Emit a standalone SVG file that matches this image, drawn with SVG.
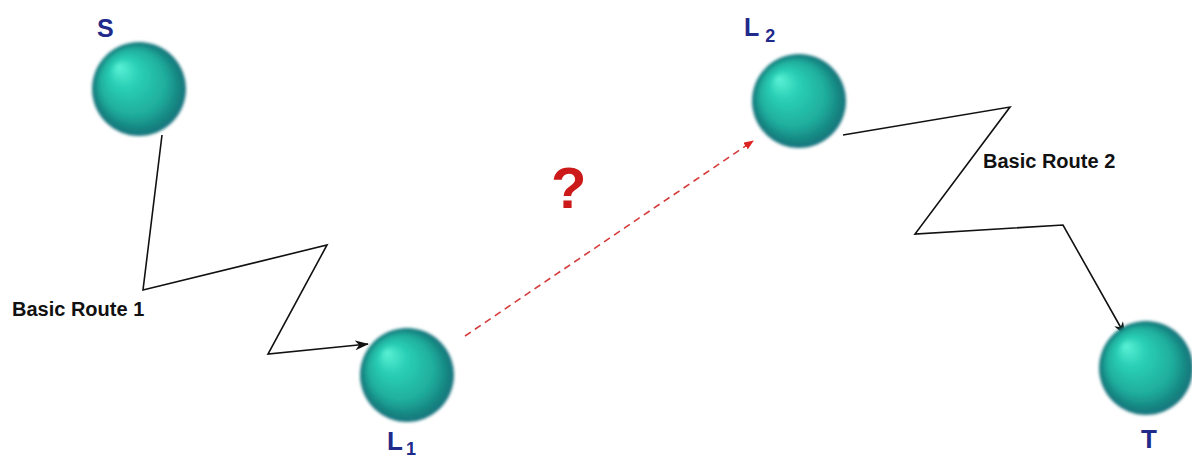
<svg xmlns="http://www.w3.org/2000/svg" width="1192" height="457" viewBox="0 0 1192 457">
  <defs>
    <radialGradient id="ball" cx="0.5" cy="0.5" r="0.5" fx="0.28" fy="0.26">
      <stop offset="0" stop-color="#5cf2d6"/>
      <stop offset="0.3" stop-color="#2ad0b6"/>
      <stop offset="0.7" stop-color="#1fad9c"/>
      <stop offset="0.92" stop-color="#15817f"/>
      <stop offset="1" stop-color="#1c7480"/>
    </radialGradient>
    <filter id="soft" x="-20%" y="-20%" width="140%" height="140%">
      <feGaussianBlur stdDeviation="1.4"/>
    </filter>
    <marker id="ah" viewBox="0 0 14 10" refX="13" refY="5" markerWidth="14" markerHeight="10" markerUnits="userSpaceOnUse" orient="auto">
      <path d="M0,0 L14,5 L0,10 L4,5 Z" fill="#111"/>
    </marker>
    <marker id="ahr" viewBox="0 0 10 8" refX="9" refY="4" markerWidth="10" markerHeight="8" markerUnits="userSpaceOnUse" orient="auto">
      <path d="M0,0 L10,4 L0,8 Z" fill="#d22"/>
    </marker>
  </defs>
  <style>
    .ball { fill: url(#ball); filter: url(#soft); }
    .lbl { font-family: "Liberation Sans", Arial, sans-serif; font-weight: bold; fill: #1f2a8a; }
    .route { font-family: "Liberation Sans", Arial, sans-serif; font-weight: bold; font-size: 20px; fill: #111; }
    .path { fill: none; stroke: #111; stroke-width: 1.6; stroke-linejoin: miter; }
  </style>
  <rect width="1192" height="457" fill="#fff"/>

  <g id="connectors">
    <polyline class="path" points="162,135 143,290 327,245 268,354 368,344" marker-end="url(#ah)"/>
    <polyline class="path" points="843,135 1010,107 915,234 1063,225 1125,335" marker-end="url(#ah)"/>
    <line x1="465" y1="336" x2="753" y2="141" stroke="#d63a3a" stroke-width="1.6" stroke-dasharray="7,5" marker-end="url(#ahr)"/>
  </g>

  <g id="node-S">
    <circle class="ball" cx="139" cy="89" r="47"/>
    <text class="lbl" x="97" y="37" font-size="25">S</text>
  </g>
  <g id="node-L1">
    <circle class="ball" cx="407" cy="375" r="47"/>
    <text class="lbl" x="387" y="450" font-size="26">L<tspan font-size="18" dx="3" dy="5">1</tspan></text>
  </g>
  <g id="node-L2">
    <circle class="ball" cx="799" cy="101" r="47"/>
    <text class="lbl" x="744" y="36" font-size="25">L<tspan font-size="18" dx="6" dy="6">2</tspan></text>
  </g>
  <g id="node-T">
    <circle class="ball" cx="1146" cy="368" r="47"/>
    <text class="lbl" x="1141" y="448" font-size="26">T</text>
  </g>

  <g id="labels">
    <text class="route" x="12" y="316">Basic Route 1</text>
    <text class="route" x="983" y="168">Basic Route 2</text>
    <text x="551" y="208" font-family="Liberation Sans, Arial, sans-serif" font-weight="bold" font-size="58" fill="#cc1a1a">?</text>
  </g>
</svg>
